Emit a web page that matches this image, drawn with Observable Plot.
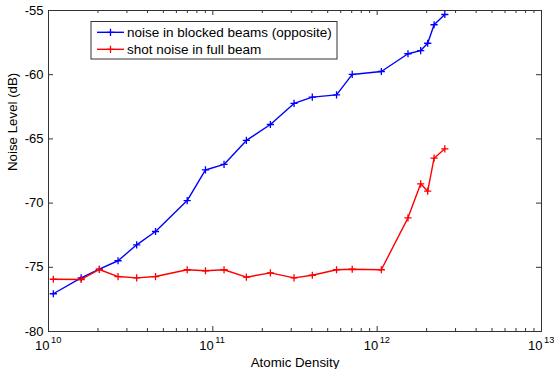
<!DOCTYPE html>
<html><head><meta charset="utf-8">
<script src="https://cdn.jsdelivr.net/npm/d3@7"></script>
<script src="https://cdn.jsdelivr.net/npm/@observablehq/plot@0.6"></script>
<style>body{margin:0;background:#fff} svg{display:block}</style>
</head><body><div id="chart"></div>
<script>
// ---- data ----
const density = [1.07e10, 1.58e10, 2.04e10, 2.65e10, 3.44e10, 4.48e10, 6.98e10, 9.02e10, 1.17e11, 1.60e11, 2.24e11, 3.12e11, 4.03e11, 5.66e11, 7.05e11, 1.06e12, 1.54e12, 1.84e12, 2.03e12, 2.22e12, 2.58e12];
const blocked = [-77.06, -75.82, -75.15, -74.49, -73.25, -72.21, -69.80, -67.42, -66.99, -65.12, -63.88, -62.24, -61.75, -61.57, -59.98, -59.75, -58.37, -58.12, -57.55, -56.11, -55.31];
const shot = [-75.93, -75.95, -75.17, -75.72, -75.82, -75.72, -75.19, -75.27, -75.19, -75.77, -75.43, -75.82, -75.62, -75.19, -75.15, -75.19, -71.15, -68.50, -69.07, -66.50, -65.77];
const seriesNames = ["noise in blocked beams (opposite)", "shot noise in full beam"];
const seriesColors = ["#0000ff", "#ff0000"];
const yTicks = [-80, -75, -70, -65, -60, -55];
const yTickLabels = ["-80", "-75", "-70", "-65", "-60", "-55"];
const xMajor = [1e10, 1e11, 1e12, 1e13];
const xExponents = ["10", "11", "12", "13"];
const xLabel = "Atomic Density";
const yLabel = "Noise Level (dB)";

// minor log ticks 2..9 x 10^d
const xMinor = [];
for (const m of xMajor.slice(0, 3)) for (let k = 2; k <= 9; k++) xMinor.push(k * m);

const rows = [
  ...density.map((d, i) => ({x: d, y: blocked[i], s: seriesNames[0]})),
  ...density.map((d, i) => ({x: d, y: shot[i], s: seriesNames[1]}))
];

// ---- layout ----
const W = 554, H = 369, mL = 48, mR = 13, mT = 10, mB = 38;
const pw = W - mL - mR, ph = H - mT - mB;
const axisColor = "#333";
const font = "'Liberation Sans', Arial, Helvetica, sans-serif";

const plus = {draw(ctx, size) {
  const r = Math.sqrt(size / Math.PI);
  ctx.moveTo(-r, 0); ctx.lineTo(r, 0); ctx.moveTo(0, -r); ctx.lineTo(0, r);
}};

const seriesMarks = [];
seriesNames.forEach((name, i) => {
  const data = rows.filter(r => r.s === name);
  seriesMarks.push(Plot.line(data, {x: "x", y: "y", stroke: seriesColors[i], strokeWidth: 1.4}));
  seriesMarks.push(Plot.dot(data, {x: "x", y: "y", symbol: plus, r: 3.6, stroke: seriesColors[i], strokeWidth: 1.3, fill: "none"}));
});

const chart = Plot.plot({
  width: W, height: H,
  marginLeft: mL, marginRight: mR, marginTop: mT, marginBottom: mB,
  style: {fontFamily: font, fontSize: "13px", background: "#fff", color: "#000"},
  x: {type: "log", domain: [1e10, 1e13], axis: null},
  y: {domain: [-80, -55], axis: null},
  marks: [
    Plot.frame({stroke: axisColor, strokeWidth: 1}),
    Plot.ruleX(xMajor, {x: d => d, insetTop: ph - 5, stroke: axisColor}),
    Plot.ruleX(xMajor, {x: d => d, insetBottom: ph - 5, stroke: axisColor}),
    Plot.ruleX(xMinor, {x: d => d, insetTop: ph - 3, stroke: axisColor}),
    Plot.ruleX(xMinor, {x: d => d, insetBottom: ph - 3, stroke: axisColor}),
    Plot.ruleY(yTicks, {y: d => d, insetRight: pw - 5, stroke: axisColor}),
    Plot.ruleY(yTicks, {y: d => d, insetLeft: pw - 5, stroke: axisColor}),
    ...seriesMarks,
    Plot.text(yTicks, {y: d => d, frameAnchor: "left", text: (d, i) => yTickLabels[i], textAnchor: "end", dx: -5, fontSize: 13, fill: "#000"}),
    Plot.text(xMajor, {x: d => d, frameAnchor: "bottom", text: () => "10", textAnchor: "end", lineAnchor: "top", dx: 1, dy: 9.7, fontSize: 13, fill: "#000"}),
    Plot.text(xMajor, {x: d => d, frameAnchor: "bottom", text: (d, i) => xExponents[i], textAnchor: "start", lineAnchor: "top", dx: 2.5, dy: 5, fontSize: 9.3, fill: "#000"}),
    Plot.text([xLabel], {frameAnchor: "bottom", text: d => d, lineAnchor: "top", dy: 25.7, fontSize: 13.3, fill: "#000"}),
    Plot.text([yLabel], {frameAnchor: "left", text: d => d, rotate: -90, dx: -36, fontSize: 13.3, fill: "#000"})
  ]
});

// ---- legend (MATLAB style box) ----
const svg = d3.select(chart);
const lg = svg.append("g").attr("font-family", font).attr("font-size", 13.5).attr("text-anchor", "start");
lg.append("rect").attr("x", 91).attr("y", 21.5).attr("width", 246).attr("height", 37.5)
  .attr("fill", "#fff").attr("stroke", axisColor).attr("stroke-width", 1);
seriesNames.forEach((name, i) => {
  const yy = 32.3 + i * 17;
  lg.append("line").attr("x1", 97).attr("x2", 124).attr("y1", yy).attr("y2", yy)
    .attr("stroke", seriesColors[i]).attr("stroke-width", 1.4);
  lg.append("path").attr("d", `M${110.5-3.6},${yy}h7.2M110.5,${yy-3.6}v7.2`)
    .attr("stroke", seriesColors[i]).attr("stroke-width", 1.3);
  lg.append("text").attr("x", 127).attr("y", yy).attr("dy", "0.35em")
    .attr("text-anchor", "start").attr("fill", "#000").text(name);
});

document.getElementById("chart").appendChild(chart);
</script>
</body></html>
